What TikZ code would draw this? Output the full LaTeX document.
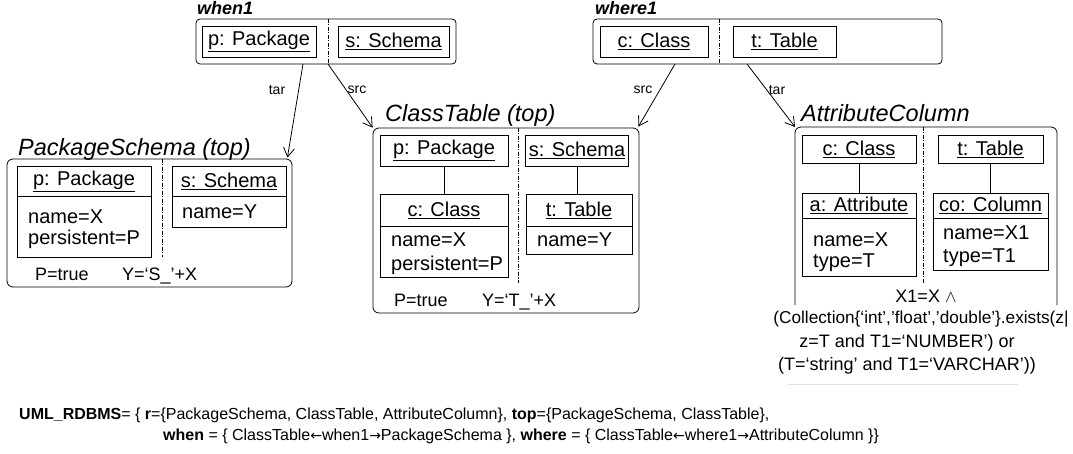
\documentclass[tikz,border=0pt]{standalone}
\usepackage{fontspec}
\setmainfont{Liberation Sans}
\newfontfamily\arrowfont{DejaVu Sans}
\usetikzlibrary{arrows.meta,calc}

\newcommand{\objsize}{\fontsize{20}{23}\selectfont}
\newcommand{\cnsize}{\fontsize{18}{21}\selectfont}
\newcommand{\larr}{{\arrowfont\fontsize{14}{16}\selectfont ←}}
\newcommand{\rarr}{{\arrowfont\fontsize{14}{16}\selectfont →}}

\tikzset{
  frame/.style={draw, line width=0.8pt, rounded corners=5pt, inner sep=0pt},
  obj/.style={draw, line width=0.8pt, inner sep=0pt, font=\objsize},
  attrtxt/.style={anchor=base west, inner sep=0pt, font=\objsize},
  cntxt/.style={anchor=base west, inner sep=0pt, font=\cnsize},
  cnline/.style={anchor=base, inner sep=0pt, font=\cnsize},
  divider/.style={line width=0.6pt, dash pattern=on 4pt off 1.5pt on 1pt off 1.5pt},
  rulename/.style={anchor=base west, inner sep=0pt, font=\fontsize{23.5}{26}\selectfont\itshape},
  condname/.style={anchor=base west, inner sep=0pt, font=\fontsize{18}{20}\selectfont\bfseries\itshape},
  lbl/.style={inner sep=0pt, font=\fontsize{14}{16}\selectfont},
  arr/.style={-{Straight Barb[length=9pt,width=11pt]}, line width=0.8pt},
  link/.style={line width=0.8pt},
  deftxt/.style={anchor=base west, inner sep=0pt, font=\fontsize{16}{19}\selectfont},
}

\begin{document}
\begin{tikzpicture}[x=1pt,y=-1pt]
\useasboundingbox[fill=white] (0,0) rectangle (1073,454);

% ---------- when1 ----------
\node[condname] (w1name) at (197,15) {when1};
\node[frame, rounded corners=4pt, minimum width=260pt, minimum height=45pt] (w1) at (326,41.5) {};
\node[obj, minimum width=114pt, minimum height=31pt] (w1p) at (259,41.5) {\underline{p: Package}};
\node[obj, minimum width=111pt, minimum height=31pt] (w1s) at (393.5,41.5) {\underline{s: Schema}};
\draw[divider] (328,19) -- (328,64);

% ---------- where1 ----------
\node[condname] (r1name) at (595,15) {where1};
\node[frame, rounded corners=4pt, minimum width=349pt, minimum height=45pt] (r1) at (767.5,41.5) {};
\node[obj, minimum width=108pt, minimum height=31pt] (r1c) at (654,41.5) {\underline{c: Class}};
\node[obj, minimum width=103pt, minimum height=31pt] (r1t) at (784.5,41.5) {\underline{t: Table}};
\draw[divider] (719,19) -- (719,64);

% ---------- PackageSchema ----------
\node[rulename] (psname) at (18,156) {PackageSchema (top)};
\node[frame, rounded corners=6pt, minimum width=285pt, minimum height=128pt] (ps) at (149.5,223) {};
\node[obj, minimum width=134pt, minimum height=30pt] (psp) at (84,181) {\underline{p: Package}};
\node[obj, minimum width=134pt, minimum height=61pt] (pspa) at (84,226.5) {};
\node[attrtxt] (pspa1) at (28,224) {name=X};
\node[attrtxt] (pspa2) at (28,245) {persistent=P};
\node[obj, minimum width=114pt, minimum height=30pt] (pss) at (229,181) {\underline{s: Schema}};
\node[obj, minimum width=114pt, minimum height=31pt] (pssa) at (229,211.5) {};
\node[attrtxt] (pssa1) at (182,219) {name=Y};
\draw[divider] (162,159) -- (162,257);
\node[cntxt] (psc1) at (35,280) {P=true};
\node[cntxt] (psc2) at (122,280) {Y=‘S\_’+X};

% ---------- ClassTable ----------
\node[rulename] (ctname) at (385,122) {ClassTable (top)};
\node[frame, rounded corners=6pt, minimum width=266pt, minimum height=185pt] (ct) at (506,220.5) {};
\node[obj, minimum width=128pt, minimum height=31pt] (ctp) at (444,150.5) {\underline{p: Package}};
\node[obj, minimum width=128pt, minimum height=32pt] (ctc) at (444,210) {\underline{c: Class}};
\node[obj, minimum width=128pt, minimum height=51pt] (ctca) at (444,251.5) {};
\node[attrtxt] (ctca1) at (391,247) {name=X};
\node[attrtxt] (ctca2) at (391,270) {persistent=P};
\node[obj, minimum width=103pt, minimum height=31pt] (cts) at (577,150.5) {\underline{s: Schema}};
\node[obj, minimum width=106pt, minimum height=32pt] (ctt) at (579,210) {\underline{t: Table}};
\node[obj, minimum width=106pt, minimum height=28pt] (ctta) at (579,240) {};
\node[attrtxt] (ctta1) at (537,247) {name=Y};
\draw[link] (ctp.south) -- (ctc.north);
\draw[link] (cts.south) -- (cts.south |- ctt.north);
\draw[divider] (518,128) -- (518,283);
\node[cntxt] (ctc1) at (394,306) {P=true};
\node[cntxt] (ctc2) at (482,306) {Y=‘T\_’+X};

% ---------- AttributeColumn ----------
\node[rulename] (acname) at (801,122) {AttributeColumn};
\coordinate (acTL) at (795,127);
\coordinate (acTR) at (1057,127);
\draw[line width=0.8pt, rounded corners=6pt] (795,305) -- (acTL) -- (acTR) -- (1057,305);
\node[obj, minimum width=114pt, minimum height=28pt] (acc) at (859,149) {\underline{c: Class}};
\node[obj, minimum width=114pt, minimum height=25pt] (aca) at (859,205.5) {\underline{a: Attribute}};
\node[obj, minimum width=114pt, minimum height=58pt] (acaa) at (859,247) {};
\node[attrtxt] (acaa1) at (813,247) {name=X};
\node[attrtxt] (acaa2) at (813,268) {type=T};
\node[obj, minimum width=105pt, minimum height=28pt] (act) at (990.5,149) {\underline{t: Table}};
\node[obj, minimum width=115pt, minimum height=25pt] (acco) at (990.5,205.5) {\underline{co: Column}};
\node[obj, minimum width=115pt, minimum height=52pt] (accoa) at (990.5,244) {};
\node[attrtxt] (accoa1) at (943,240) {name=X1};
\node[attrtxt] (accoa2) at (943,263) {type=T1};
\draw[link] (acc.south) -- (aca.north);
\draw[link] (act.south) -- (acco.north);
\draw[divider] (923,127) -- (923,283);
\node[cnline] (acx1) at (926,302) {X1=X $\wedge$};
\node[cnline, font=\fontsize{17.2}{20}\selectfont] (acx2) at (921,323) {(Collection\{‘int’,’float’,’double’\}.exists(z|};
\node[cnline] (acx3) at (907,347) {z=T and T1=‘NUMBER’) or};
\node[cnline] (acx4) at (907,370) {(T=‘string’ and T1=‘VARCHAR’))};
\draw[black!12, line width=0.6pt] (788,384) -- (1018,384);

% ---------- condition arrows ----------
\coordinate (w1tar) at (303,64);
\coordinate (w1src) at (328,64);
\coordinate (r1src) at (675,64);
\coordinate (r1tar) at (747,64);
\draw[arr] (w1tar) -- ($(ps.north east)+(-5,-1)$);
\draw[arr] (w1src) -- (ct.north west);
\draw[arr] (r1src) -- ($(ct.north east)+(-1,-1)$);
\draw[arr] (r1tar) -- (acTL);
\node[lbl] (l1) at (277,90) {tar};
\node[lbl] (l2) at (357,90) {src};
\node[lbl] (l3) at (643,90) {src};
\node[lbl] (l4) at (777,90) {tar};

% ---------- grammar definition ----------
\node[deftxt] (def1) at (19,419) {\textbf{UML\_RDBMS}= \{ \textbf{r}=\{PackageSchema, ClassTable, AttributeColumn\}, \textbf{top}=\{PackageSchema, ClassTable\},};
\node[deftxt] (def2) at (163,440) {\textbf{when} = \{ ClassTable\larr when1\rarr PackageSchema \}, \textbf{where} = \{ ClassTable\larr where1\rarr AttributeColumn \}\}};
\end{tikzpicture}
\end{document}
